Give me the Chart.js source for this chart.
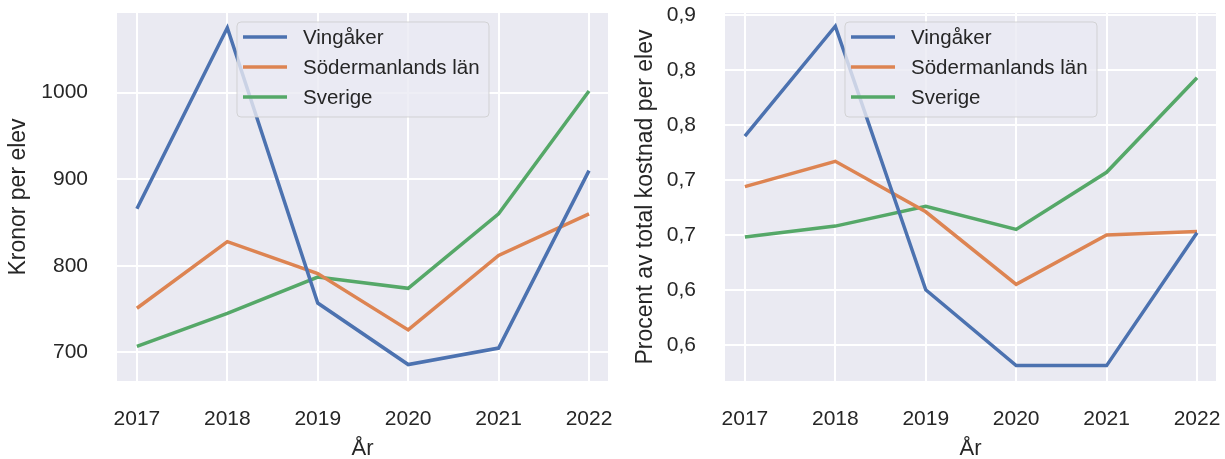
<!DOCTYPE html>
<html>
<head>
<meta charset="utf-8">
<script src="https://cdn.jsdelivr.net/npm/chart.js@4"></script>
<style>
  body { margin: 0; background: #fff; }
  .box { position: absolute; top: 0; height: 459px; }
</style>
</head>
<body>
<div class="box" style="left:0;width:612px"><canvas id="kronorChart" width="612" height="459"></canvas></div>
<div class="box" style="left:612px;width:613px"><canvas id="procentChart" width="613" height="459"></canvas></div>
<script>
const years = [2017, 2018, 2019, 2020, 2021, 2022];
const seriesNames = ['Vingåker', 'Södermanlands län', 'Sverige'];

// Kronor per elev
const kronorVingaker = [866, 1075, 757, 686, 705, 910];
const kronorSodermanland = [751, 828, 791, 726, 812, 860];
const kronorSverige = [707, 745, 787, 774, 860, 1002];
const kronorTicks = [700, 800, 900, 1000];

// Procent av total kostnad per elev
const procentVingaker = [0.740, 0.840, 0.600, 0.531, 0.531, 0.652];
const procentSodermanland = [0.694, 0.717, 0.671, 0.605, 0.650, 0.653];
const procentSverige = [0.648, 0.658, 0.676, 0.655, 0.707, 0.793];
const procentTicks = [0.55, 0.60, 0.65, 0.70, 0.75, 0.80, 0.85];
const procentTickLabels = ['0,6', '0,6', '0,7', '0,7', '0,8', '0,8', '0,9'];

const colors = ['#4C72B0', '#DD8452', '#55A868'];
const textColor = '#262626';
const fontFamily = "'Liberation Sans', Arial, sans-serif";

Chart.defaults.font.family = fontFamily;
Chart.defaults.color = textColor;

const bgPlugin = {
    id: 'plotBg',
    beforeDraw(chart) {
        const a = chart.chartArea;
        const ctx = chart.ctx;
        ctx.save();
        ctx.fillStyle = '#EAEAF2';
        ctx.fillRect(a.left, a.top, a.right - a.left, a.bottom - a.top);
        ctx.restore();
    }
};

// legend drawn inside the plot, like matplotlib's loc="best"
const insideLegend = {
    id: 'insideLegend',
    afterDatasetsDraw(chart) {
        const a = chart.chartArea;
        const ctx = chart.ctx;
        const x = a.left + 120, y = a.top + 9, w = 252, h = 95, r = 4;
        ctx.save();
        ctx.beginPath();
        ctx.roundRect(x, y, w, h, r);
        ctx.fillStyle = 'rgba(234,234,242,0.8)';
        ctx.fill();
        ctx.strokeStyle = 'rgba(204,204,204,0.8)';
        ctx.lineWidth = 1;
        ctx.stroke();
        ctx.font = '20.5px ' + fontFamily;
        ctx.textBaseline = 'middle';
        chart.data.datasets.forEach((ds, i) => {
            const ly = y + 15 + i * 30;
            ctx.beginPath();
            ctx.moveTo(x + 6, ly);
            ctx.lineTo(x + 50, ly);
            ctx.strokeStyle = ds.borderColor;
            ctx.lineWidth = 3.5;
            ctx.stroke();
            ctx.fillStyle = textColor;
            ctx.fillText(ds.label, x + 66, ly + 1);
        });
        ctx.restore();
    }
};

function makeDatasets(lists) {
    return lists.map((vals, i) => ({
        label: seriesNames[i],
        data: years.map((yr, j) => ({ x: yr, y: vals[j] })),
        borderColor: colors[i],
        backgroundColor: colors[i],
        borderWidth: 3.5,
        pointRadius: 0,
        tension: 0
    }));
}

function noPad(s) {
    s.paddingTop = 0; s.paddingBottom = 0; s.paddingLeft = 0; s.paddingRight = 0;
}

function makeChart(id, lists, yTitle, yMin, yMax, yTicks, yLabels, yWidth, titlePad, padRight) {
    const el = document.getElementById(id);
    if (!el) return;
    new Chart(el.getContext('2d'), {
        type: 'line',
        data: { datasets: makeDatasets(lists) },
        options: {
            responsive: false,
            animation: false,
            layout: { padding: { top: 13, right: padRight, left: 0, bottom: 0 } },
            plugins: { legend: { display: false }, tooltip: { enabled: false } },
            scales: {
                x: {
                    type: 'linear',
                    min: 2016.78,
                    max: 2022.21,
                    afterBuildTicks: s => { s.ticks = years.map(v => ({ value: v })); },
                    afterFit: s => { s.height = 78; noPad(s); },
                    grid: { color: '#ffffff', lineWidth: 2, drawTicks: false },
                    border: { display: false },
                    ticks: { padding: 26, font: { size: 21 }, color: textColor, maxRotation: 0, callback: v => String(v) },
                    title: { display: true, text: 'År', font: { size: 22 }, color: textColor, padding: { top: 0, bottom: -3 } }
                },
                y: {
                    min: yMin,
                    max: yMax,
                    afterBuildTicks: s => { s.ticks = yTicks.map(v => ({ value: v })); },
                    afterFit: s => { s.width = yWidth; noPad(s); },
                    grid: { color: '#ffffff', lineWidth: 2, drawTicks: false },
                    border: { display: false },
                    ticks: {
                        padding: 29,
                        font: { size: 21 },
                        color: textColor,
                        callback: (v, i) => yLabels ? yLabels[i] : String(v)
                    },
                    title: { display: true, text: yTitle, font: { size: 23 }, color: textColor, padding: { top: titlePad, bottom: 0 } }
                }
            }
        },
        plugins: [bgPlugin, insideLegend]
    });
}

document.addEventListener('DOMContentLoaded', function() {
    makeChart('kronorChart', [kronorVingaker, kronorSodermanland, kronorSverige],
        'Kronor per elev', 667, 1092, kronorTicks, null, 117, 5, 4);
    makeChart('procentChart', [procentVingaker, procentSodermanland, procentSverige],
        'Procent av total kostnad per elev', 0.517, 0.852, procentTicks, procentTickLabels, 113, 20, 9);
});
</script>
</body>
</html>
